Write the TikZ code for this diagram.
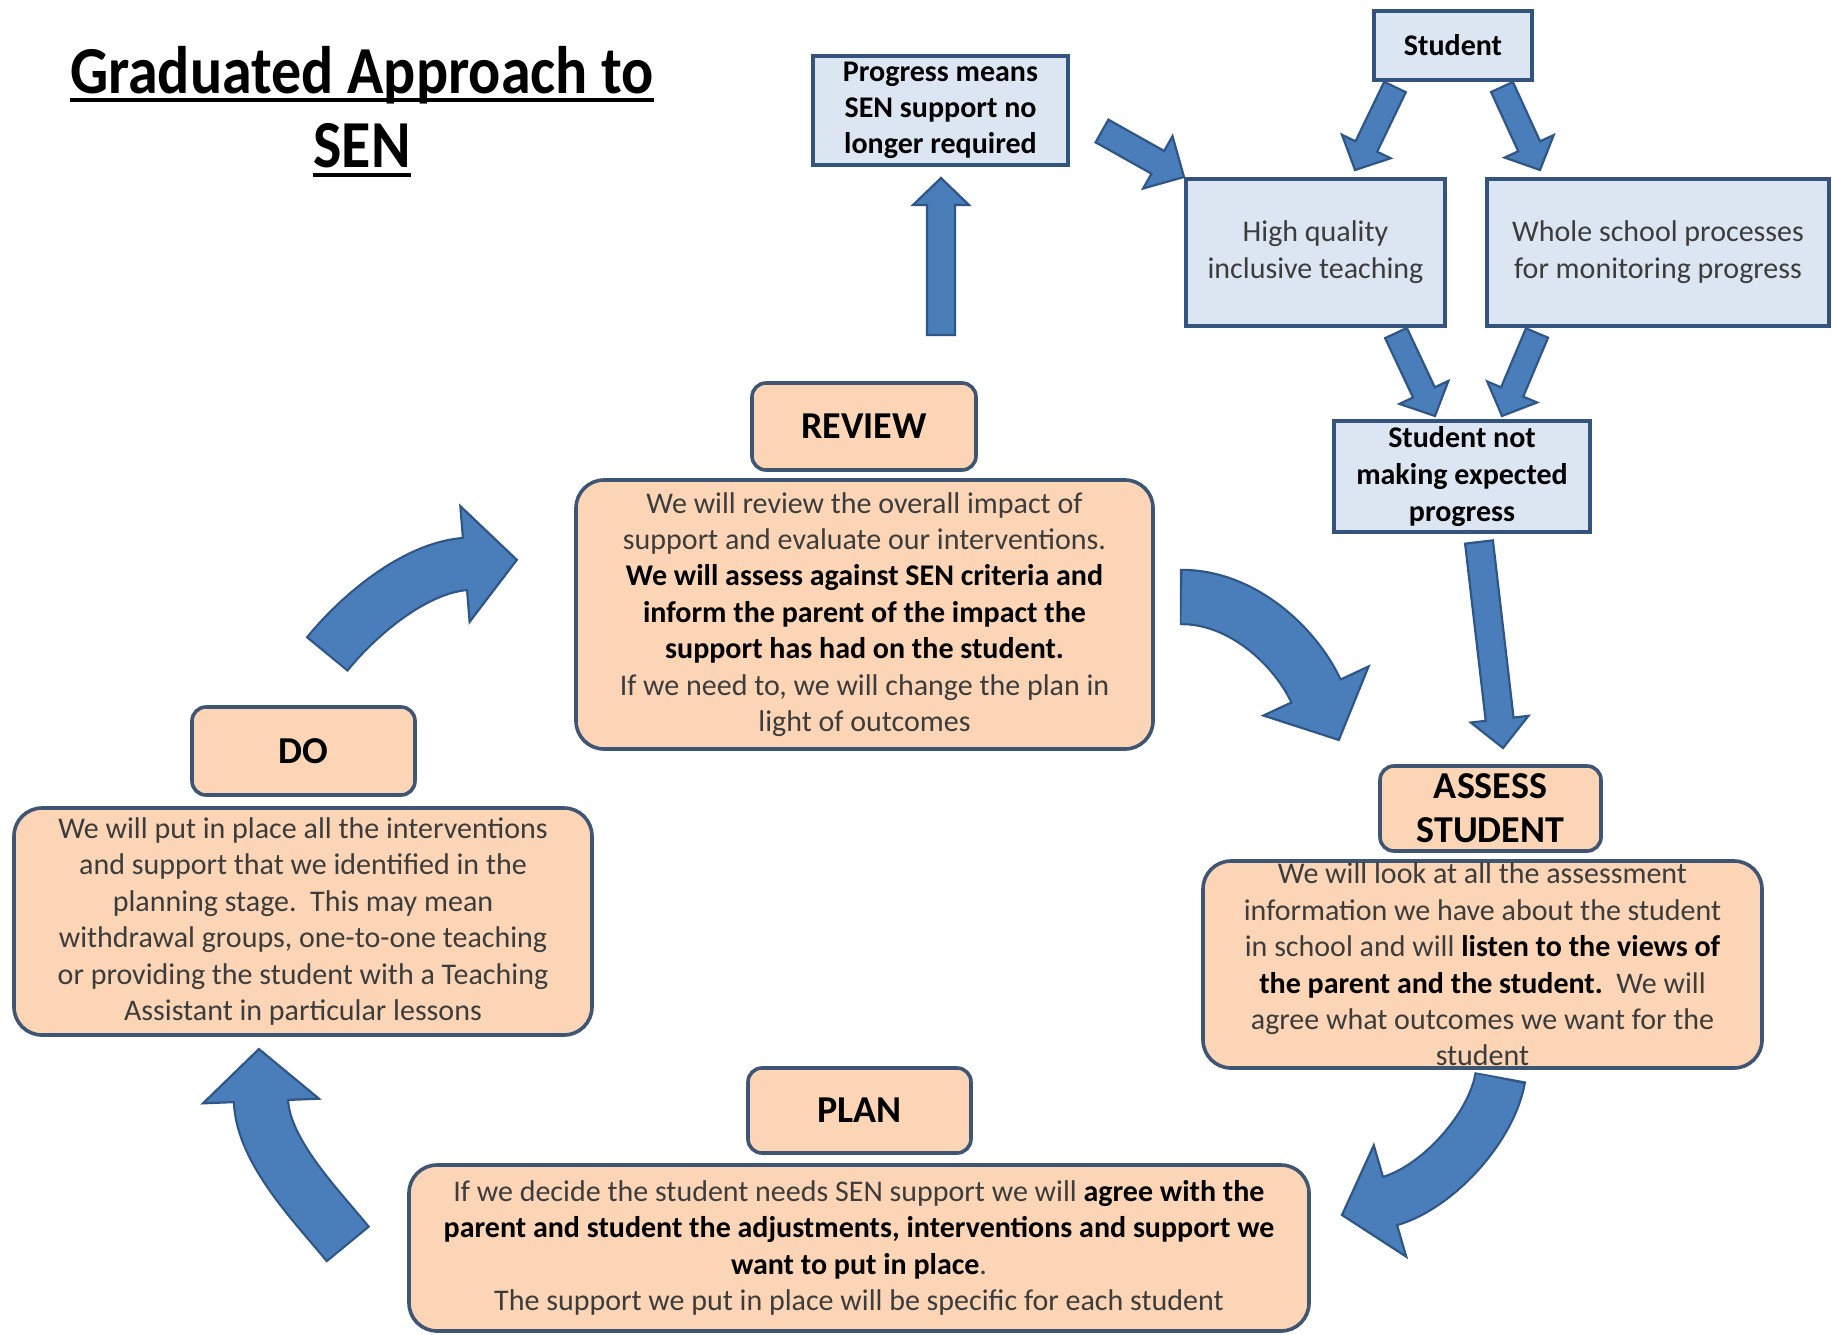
\documentclass[tikz,border=0pt]{standalone}
\usepackage{fontspec}
\setmainfont{Carlito}
\usetikzlibrary{calc}
\definecolor{bluefill}{HTML}{DCE6F2}
\definecolor{bluebd}{HTML}{34547E}
\definecolor{orfill}{HTML}{FBD5B5}
\definecolor{orbd}{HTML}{3E5674}
\definecolor{arrfill}{HTML}{4A7EBB}
\definecolor{arrbd}{HTML}{2E5687}
\definecolor{txt}{HTML}{3C3C3C}
\newcommand\B[1]{{\bfseries\color{black}#1}}
\tikzset{
  blockarrow/.style={fill=arrfill, draw=arrbd, line width=1.1pt, line join=miter},
  bluebox/.style={draw=bluebd, fill=bluefill, line width=2pt, inner sep=0pt, align=center,
    text=txt, font=\fontsize{15}{18.5}\selectfont},
  orhead/.style={draw=orbd, fill=orfill, line width=1.8pt, rounded corners=7pt, inner sep=0pt,
    align=center, text=black, font=\fontsize{19}{22}\selectfont\bfseries,
    minimum width=111pt, minimum height=43pt},
  orbody/.style={draw=orbd, fill=orfill, line width=1.8pt, rounded corners=14pt, inner xsep=0pt,
    inner ysep=0pt, align=center, text=txt, font=\fontsize{15}{18.2}\selectfont},
  titlesty/.style={inner sep=0pt, anchor=base, font=\fontsize{30}{36}\selectfont\bfseries}
}
% straight block arrow: start, tip, shaft half width, head half width, head length (pt)
\newcommand\sarrow[5]{%
  \filldraw[blockarrow] let \p1=(#1), \p2=(#2),
    \n1={atan2(\y2-\y1,\x2-\x1)}, \n2={veclen(\x2-\x1,\y2-\y1)-#5} in
    ($(\p1)+(\n1+90:#3pt)$) -- ($(\p1)+(\n1:\n2)+(\n1+90:#3pt)$)
    -- ($(\p1)+(\n1:\n2)+(\n1+90:#4pt)$) -- (\p2)
    -- ($(\p1)+(\n1:\n2)+(\n1-90:#4pt)$) -- ($(\p1)+(\n1:\n2)+(\n1-90:#3pt)$)
    -- ($(\p1)+(\n1-90:#3pt)$) -- cycle;}
% curved block arrow: start, c1, c2, head base, shaft width, head half width, head length (pt)
\newcommand\carrow[7]{%
  \filldraw[blockarrow] let \p1=(#3), \p2=(#4), \n1={atan2(\y2-\y1,\x2-\x1)} in
    ($(\p2)+(\n1+90:#6pt)$) -- ($(\p2)+(\n1:#7pt)$) -- ($(\p2)+(\n1-90:#6pt)$) -- cycle;
  \pgfmathsetmacro\carrowbw{#5+2.2}%
  \draw[arrbd, line width=\carrowbw pt] ($(#1)!-1.1pt!(#2)$) -- (#1) .. controls (#2) and (#3) .. (#4);
  \draw[arrfill, line width=#5pt] (#1) .. controls (#2) and (#3) .. (#4) -- ($(#4)!-2.5pt!(#3)$);}
\begin{document}
\begin{tikzpicture}[x=0.5pt,y=-0.5pt]
\useasboundingbox[fill=white] (0,0) rectangle (1832,1334);

% title
\node[titlesty] (t1) at (362,93) {\scalebox{1}[1.12]{Graduated Approach to}};
\node[titlesty] (t2) at (362,167) {\scalebox{1}[1.12]{SEN}};
\draw[line width=2.2pt] ([yshift=-3.5pt]t1.base west) -- ([yshift=-3.5pt]t1.base east);
\draw[line width=2.2pt] ([yshift=-4pt]t2.base west) -- ([yshift=-4pt]t2.base east);

% blue boxes
\node[bluebox, font=\fontsize{15}{18.5}\selectfont\bfseries, text=black, minimum width=79pt, minimum height=34.5pt] (student) at (1453,45) {Student};
\node[bluebox, font=\fontsize{15}{18}\selectfont\bfseries, text=black, minimum width=127.5pt, minimum height=54.5pt] (progress) at (940.5,110.5) {Progress means\\SEN support no\\longer required};
\node[bluebox, minimum width=129.5pt, minimum height=73.5pt] (hq) at (1315.5,252.5) {High quality\\inclusive teaching};
\node[bluebox, minimum width=171pt, minimum height=73.5pt] (ws) at (1658,252.5) {Whole school processes\\for monitoring progress};
\node[bluebox, font=\fontsize{15}{18.5}\selectfont\bfseries, text=black, minimum width=128pt, minimum height=55.5pt] (notprog) at (1462,476.5) {Student not\\making expected\\progress};

% orange boxes
\node[orhead, minimum width=112pt, minimum height=43.5pt] (reviewh) at (864,426.5) {REVIEW};
\node[orbody, minimum width=288.5pt, minimum height=134.5pt] (reviewb) at (864.5,614.5)
  {We will review the overall impact of\\support and evaluate our interventions.\\
   \B{We will assess against SEN criteria and}\\\B{inform the parent of the impact the}\\
   \B{support has had on the student.}\\If we need to, we will change the plan in\\light of outcomes};
\node[orhead, minimum width=111.5pt, minimum height=44pt] (doh) at (303.5,751) {DO};
\node[orbody, minimum width=289pt, minimum height=113.5pt] (dob) at (303,921.5)
  {We will put in place all the interventions\\and support that we identified in the\\
   planning stage.\ \ This may mean\\withdrawal groups, one-to-one teaching\\
   or providing the student with a Teaching\\Assistant in particular lessons};
\node[orhead, font=\fontsize{19}{22}\selectfont\bfseries, minimum width=110.5pt, minimum height=42.5pt] (assessh) at (1490.5,808.5) {ASSESS\\STUDENT};
\node[orbody, inner ysep=-2pt, minimum width=279.5pt, minimum height=103.5pt] (assessb) at (1482.5,964.5)
  {We will look at all the assessment\\information we have about the student\\
   in school and will \B{listen to the views of}\\\B{the parent and the student.}\ \ We will\\
   agree what outcomes we want for the\\student};
\node[orhead, minimum width=111.5pt, minimum height=42.5pt] (planh) at (859.5,1110.5) {PLAN};
\node[orbody, minimum width=450pt, minimum height=83pt] (planb) at (859,1248)
  {If we decide the student needs SEN support we will \B{agree with the}\\
   \B{parent and student the adjustments, interventions and support we}\\
   \B{want to put in place}.\\The support we put in place will be specific for each student};

% arrow end points
\coordinate (upS) at (941,335);   \coordinate (upT) at (941,178);
\coordinate (phS) at (1102,131);  \coordinate (phT) at (1184,177);
\coordinate (shS) at (1395,87);   \coordinate (shT) at (1355,170);
\coordinate (swS) at (1502,87);   \coordinate (swT) at (1540,170);
\coordinate (hnS) at (1396,333);  \coordinate (hnT) at (1435,416);
\coordinate (wnS) at (1537,333);  \coordinate (wnT) at (1502,416);
\coordinate (naS) at (1479,542);  \coordinate (naT) at (1503,748);

\sarrow{upS}{upT}{7}{14}{13.5}
\sarrow{phS}{phT}{6.5}{15}{15}
\sarrow{shS}{shT}{6}{13.5}{13}
\sarrow{swS}{swT}{6}{13.5}{13}
\sarrow{hnS}{hnT}{6}{13.5}{13}
\sarrow{wnS}{wnT}{6}{13.5}{13}
\sarrow{naS}{naT}{7}{14.5}{14.5}

% curved arrows
\coordinate (raS) at (1182,597); \coordinate (raA) at (1242,597); \coordinate (raB) at (1295,646); \coordinate (raE) at (1316,691);
\coordinate (apS) at (1500,1079); \coordinate (apA) at (1491,1128); \coordinate (apB) at (1438,1187); \coordinate (apE) at (1390,1201);
\coordinate (pdS) at (347,1243); \coordinate (pdA) at (315,1204); \coordinate (pdB) at (263,1151); \coordinate (pdE) at (261,1101);
\coordinate (drS) at (328,653); \coordinate (drA) at (360,614); \coordinate (drB) at (415,568); \coordinate (drE) at (465,564);

\carrow{raS}{raA}{raB}{raE}{26}{29}{27}
\carrow{apS}{apA}{apB}{apE}{24}{29}{25}
\carrow{pdS}{pdA}{pdB}{pdE}{26}{29}{26}
\carrow{drS}{drA}{drB}{drE}{25}{29}{26}
\end{tikzpicture}
\end{document}
